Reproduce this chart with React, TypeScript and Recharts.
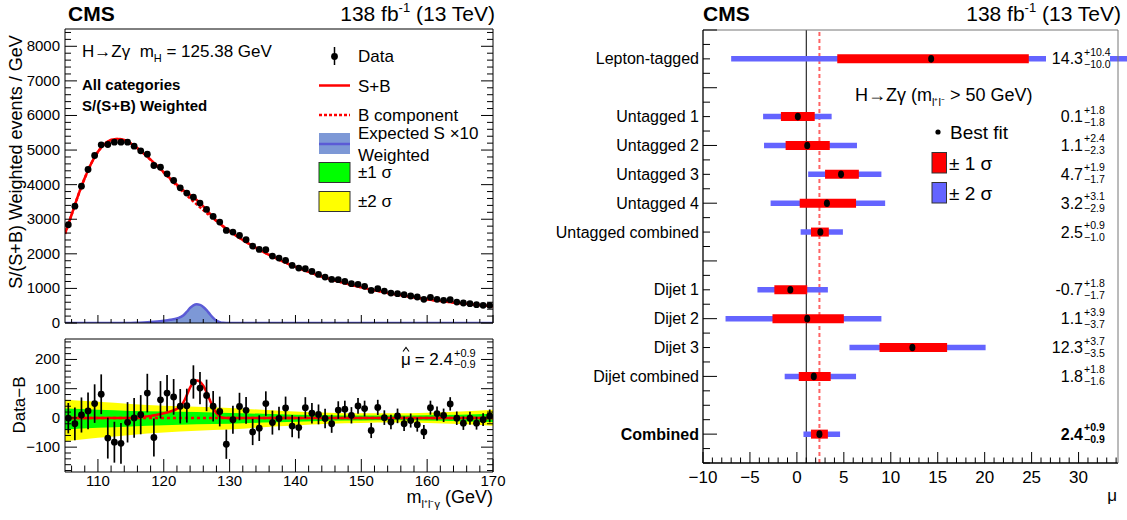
import React from 'react'
import {
  ComposedChart,
  ScatterChart,
  Scatter,
  Line,
  Area,
  XAxis,
  YAxis,
  ErrorBar,
  ReferenceLine,
} from 'recharts'

const FONT = '"Liberation Sans", Arial, Helvetica, sans-serif'

// ---- left panel: weighted m(llγ) spectrum, 1 GeV bins, first bin centred at 105.5 ----
const weightedEvents = [
  2840, 3379, 3957, 4438, 4842, 5150, 5160, 5227, 5227, 5227, 5112, 4977, 4881, 4554, 4505,
  4313, 4120, 3909, 3755, 3639, 3466, 3283, 3081, 2917, 2676, 2628, 2532, 2407, 2224, 2128,
  2118, 1935, 1877, 1810, 1665, 1588, 1569, 1492, 1405, 1329, 1261, 1252, 1203, 1136, 1117,
  1059, 943, 992, 924, 866, 847, 818, 780, 751, 684, 741, 684, 655, 674, 606,
  578, 558, 529, 510, 510,
]
const dataMinusB = [
  -1, -20, 10, 24, 49, 81, -69, -83, -87, -15, 0, 11, 85, -67, 62,
  85, 72, 40, 42, 123, 102, 77, 40, 22, -90, -6, 39, 26, -48, -35,
  49, -16, -2, 34, -28, -33, 35, 16, 12, -2, -20, 27, 30, 9, 41,
  32, -43, 36, 1, -14, 7, -20, -9, -23, -48, 35, 15, 9, 48, -1,
  -18, -1, -18, -6, 7,
]
const statError = [
  52, 56, 60, 63, 66, 68, 70, 70, 70, 69, 68, 67, 66, 65, 64,
  62, 61, 59, 58, 57, 55, 54, 52, 51, 50, 48, 47, 46, 45, 44,
  42, 41, 40, 39, 38, 37, 36, 35, 34, 33, 31, 30, 29, 28, 27,
  27, 26, 26, 25, 25, 25, 25, 24, 24, 24, 24, 24, 23, 23, 23,
  23, 22, 22, 22, 22,
]

// background-only component of the fit, at integer masses 105..170
const bkgFit = [
  2580, 3130, 3690, 4190, 4620, 4950, 5170, 5290, 5320, 5290, 5190, 5050, 4890, 4715, 4530,
  4345, 4155, 3965, 3780, 3600, 3430, 3262, 3100, 2945, 2797, 2657, 2525, 2400, 2283, 2172,
  2067, 1968, 1874, 1786, 1702, 1623, 1548, 1477, 1410, 1346, 1286, 1229, 1175, 1124, 1076,
  1030, 987, 946, 907, 870, 835, 802, 771, 741, 713, 686, 661, 637, 614, 592,
  572, 553, 535, 518, 502, 487,
]

// signal shapes
const signalMass = [105, 115, 116, 117, 118, 119, 120, 121, 122, 122.5, 123, 123.5, 124, 124.5, 125, 125.5, 126, 126.5, 127, 127.5, 128, 128.5, 129, 130, 170]
const fittedSignal = [0, 0, 2, 4, 7, 11, 16, 22, 31, 40, 54, 78, 104, 122, 128, 124, 110, 88, 61, 36, 16, 6, 1, 0, 0]
const expectedS10 = [0, 0, 8, 16, 28, 45, 68, 95, 130, 168, 225, 325, 435, 510, 540, 525, 465, 370, 255, 150, 68, 25, 6, 0, 0]

// ±1σ / ±2σ uncertainty of the background fit (Data−B panel)
const bandMass = [105, 110, 115, 120, 125, 130, 135, 140, 145, 150, 155, 160, 165, 170]
const band1Hi = [32, 28, 24, 22, 20, 17, 14, 11, 9, 8, 8, 9, 11, 14]
const band1Lo = [-40, -34, -29, -25, -22, -20, -16, -13, -10, -9, -8, -9, -11, -14]
const band2Hi = [62, 55, 48, 42, 38, 34, 28, 22, 18, 16, 16, 18, 22, 28]
const band2Lo = [-80, -68, -58, -50, -44, -40, -32, -26, -20, -17, -16, -17, -21, -27]

// ---- right panel: signal strength per category ----
const categories = [
  'Lepton-tagged', 'Untagged 1', 'Untagged 2', 'Untagged 3', 'Untagged 4', 'Untagged combined',
  'Dijet 1', 'Dijet 2', 'Dijet 3', 'Dijet combined', 'Combined',
]
const categoryRow = [0, 2, 3, 4, 5, 6, 8, 9, 10, 11, 13]
const bestFit = [14.3, 0.1, 1.1, 4.7, 3.2, 2.5, -0.7, 1.1, 12.3, 1.8, 2.4]
const sigma1Up = [10.4, 1.8, 2.4, 1.9, 3.1, 0.9, 1.8, 3.9, 3.7, 1.8, 0.9]
const sigma1Down = [10.0, 1.8, 2.3, 1.7, 2.9, 1.0, 1.7, 3.7, 3.5, 1.6, 0.9]
const sigma2Low = [-7.0, -3.6, -3.5, 1.2, -2.8, 0.4, -4.2, -7.6, 5.6, -1.3, 0.7]
const sigma2High = [40, 3.7, 6.4, 9.0, 9.4, 4.9, 3.3, 9.0, 20.1, 6.3, 4.6]

// tick labels
const massTicks = [110, 120, 130, 140, 150, 160, 170]
const eventTicks = [0, 1000, 2000, 3000, 4000, 5000, 6000, 7000, 8000]
const residualTicks = [-100, 0, 100, 200]
const muTicks = [-10, -5, 0, 5, 10, 15, 20, 25, 30]

const range = (a: number, b: number, s: number) => {
  const out: number[] = []
  for (let v = a; v <= b + 1e-9; v += s) out.push(Math.round(v * 1000) / 1000)
  return out
}

const binTable = weightedEvents.map((v, i) => ({
  m: 105.5 + i,
  events: v,
  resid: dataMinusB[i],
  err: statError[i],
}))
const fitTable = bkgFit.map((b, i) => {
  const m = 105 + i
  const k = signalMass.indexOf(m)
  return { m, b, sb: b + (k >= 0 ? fittedSignal[k] : 0) }
})
const signalTable = signalMass.map((m, i) => ({ m, fit: fittedSignal[i], exp: expectedS10[i] }))
const bandTable = bandMass.map((m, i) => ({
  m,
  s1: [band1Lo[i], band1Hi[i]],
  s2: [band2Lo[i], band2Hi[i]],
}))
const zeroLine = [{ m: 105, v: 0 }, { m: 170, v: 0 }]
const muTable = categories.map((c, i) => ({
  name: c,
  row: categoryRow[i],
  mu: bestFit[i],
  e1: [sigma1Down[i], sigma1Up[i]],
  e2: [bestFit[i] - sigma2Low[i], sigma2High[i] - bestFit[i]],
}))

const minus = (v: number) => (v < 0 ? '\u2212' + Math.abs(v) : String(v))

// ROOT-like inward ticks, optional labels on major ticks
type Side = 'bottom' | 'top' | 'left' | 'right'
function rootTick(side: Side, majors: number[], long: number, short: number, labelDy = 0, fontSize = 15) {
  return (p: any) => {
    const v = p.payload.value
    const major = majors.some((t) => Math.abs(t - v) < 1e-6)
    const len = major ? long : short
    let x2 = p.x
    let y2 = p.y
    if (side === 'bottom') y2 = p.y - len
    if (side === 'top') y2 = p.y + len
    if (side === 'left') x2 = p.x + len
    if (side === 'right') x2 = p.x - len
    let label = null
    if (labelDy && major) {
      label =
        side === 'bottom' ? (
          <text x={p.x} y={p.y + labelDy} textAnchor="middle" fontSize={fontSize} fill="#000" style={{ fontFamily: FONT }}>
            {minus(v)}
          </text>
        ) : (
          <text x={p.x - labelDy} y={p.y + 5} textAnchor="end" fontSize={fontSize} fill="#000" style={{ fontFamily: FONT }}>
            {minus(v)}
          </text>
        )
    }
    return (
      <g>
        <line x1={p.x} y1={p.y} x2={x2} y2={y2} stroke="#000" strokeWidth={1} />
        {label}
      </g>
    )
  }
}

const categoryTick = (p: any) => {
  const v = p.payload.value
  const odd = Number.isInteger(v) && Math.abs(v % 2) === 1
  const i = categoryRow.indexOf(v)
  return (
    <g>
      <line x1={p.x} y1={p.y} x2={p.x + (odd ? 14 : 7)} y2={p.y} stroke="#000" />
      {i >= 0 && (
        <text x={p.x - 4} y={p.y + 5.5} textAnchor="end" fontSize={16} fill="#000"
          fontWeight={categories[i] === 'Combined' ? 700 : 400} style={{ fontFamily: FONT }}>
          {categories[i]}
        </text>
      )}
    </g>
  )
}

// value labels at the right edge of the mu panel, on a white box like the ROOT pave
const annotationShape = (p: any) => {
  const i = categoryRow.indexOf(p.payload.row)
  if (i < 0) return <g />
  const w = categories[i] === 'Combined' ? 700 : 400
  const x = 543
  const y = p.cy
  return (
    <g fill="#000" style={{ fontFamily: FONT }} fontWeight={w}>
      <rect x={x - 37} y={y - 11} width={64} height={23} fill="#fff" />
      <text x={x} y={y + 5.5} textAnchor="end" fontSize={16}>{bestFit[i].toFixed(1)}</text>
      <text x={x + 1} y={y - 3} fontSize={10.5}>+{sigma1Up[i].toFixed(1)}</text>
      <text x={x + 1} y={y + 9} fontSize={10.5}>{'\u2212' + sigma1Down[i].toFixed(1)}</text>
    </g>
  )
}

const dot = (p: any) => <circle cx={p.cx} cy={p.cy} r={3.4} fill="#000" />
const fitDot = (p: any) => <ellipse cx={p.cx} cy={p.cy} rx={3} ry={3.8} fill="#000" />

const frame = { stroke: '#000', strokeWidth: 1 }
const massMinor = range(106, 170, 2)

function SpectrumPanel() {
  const yMinor = range(0, 8400, 200)
  return (
    <ComposedChart width={515} height={330} margin={{ top: 28, right: 21, bottom: 6, left: 5 }}>
      <XAxis dataKey="m" type="number" domain={[105, 170]} allowDataOverflow ticks={massMinor} interval={0}
        height={1} tickLine={false} tickSize={0} tickMargin={0} axisLine={frame} tick={rootTick('bottom', massTicks, 8, 4)} />
      <XAxis xAxisId="t" orientation="top" type="number" domain={[105, 170]} allowDataOverflow ticks={massMinor} interval={0}
        height={1} tickLine={false} tickSize={0} tickMargin={0} axisLine={frame} tick={rootTick('top', massTicks, 8, 4)} />
      <YAxis type="number" domain={[0, 8500]} allowDataOverflow ticks={yMinor} interval={0} width={60}
        tickLine={false} tickSize={0} tickMargin={0} axisLine={frame} tick={rootTick('left', eventTicks, 12, 6, 5)} />
      <YAxis yAxisId="r" orientation="right" type="number" domain={[0, 8500]} allowDataOverflow ticks={yMinor}
        interval={0} width={1} tickLine={false} tickSize={0} tickMargin={0} axisLine={frame} tick={rootTick('right', eventTicks, 12, 6)} />
      <Area data={signalTable} dataKey="exp" type="monotone" stroke="#5b5bd6" strokeWidth={2.5} fill="#7d98d6" fillOpacity={1} isAnimationActive={false} />
      <Line data={fitTable} dataKey="b" type="monotone" stroke="#ff0000" strokeWidth={2.5} strokeDasharray="3 2" dot={false} isAnimationActive={false} />
      <Line data={fitTable} dataKey="sb" type="monotone" stroke="#ff0000" strokeWidth={2.5} dot={false} isAnimationActive={false} />
      <Scatter data={binTable} dataKey="events" shape={dot} isAnimationActive={false}>
        <ErrorBar dataKey="err" direction="y" width={0} stroke="#000" strokeWidth={1.5} isAnimationActive={false} />
      </Scatter>
    </ComposedChart>
  )
}

function ResidualPanel() {
  const yMinor = range(-180, 260, 20)
  return (
    <ComposedChart width={515} height={190} margin={{ top: 8, right: 21, bottom: 0, left: 5 }}>
      <XAxis dataKey="m" type="number" domain={[105, 170]} allowDataOverflow ticks={massMinor} interval={0}
        height={48} tickLine={false} tickSize={0} tickMargin={0} axisLine={frame} tick={rootTick('bottom', massTicks, 13, 6.5, 14)} />
      <XAxis xAxisId="t" orientation="top" type="number" domain={[105, 170]} allowDataOverflow ticks={massMinor} interval={0}
        height={1} tickLine={false} tickSize={0} tickMargin={0} axisLine={frame} tick={rootTick('top', massTicks, 13, 6.5)} />
      <YAxis type="number" domain={[-185, 270]} allowDataOverflow ticks={yMinor} interval={0} width={60}
        tickLine={false} tickSize={0} tickMargin={0} axisLine={frame} tick={rootTick('left', residualTicks, 12, 6, 5)} />
      <YAxis yAxisId="r" orientation="right" type="number" domain={[-185, 270]} allowDataOverflow ticks={yMinor} interval={0}
        width={1} tickLine={false} tickSize={0} tickMargin={0} axisLine={frame} tick={rootTick('right', residualTicks, 12, 6)} />
      <Area data={bandTable} dataKey="s2" type="monotone" stroke="none" fill="#ffff00" fillOpacity={1} isAnimationActive={false} />
      <Area data={bandTable} dataKey="s1" type="monotone" stroke="none" fill="#00ff00" fillOpacity={1} isAnimationActive={false} />
      <Line data={zeroLine} dataKey="v" stroke="#ff0000" strokeWidth={2.5} strokeDasharray="3 3" dot={false} isAnimationActive={false} />
      <Line data={signalTable} dataKey="fit" type="monotone" stroke="#ff0000" strokeWidth={2.5} dot={false} isAnimationActive={false} />
      <Scatter data={binTable} dataKey="resid" shape={dot} isAnimationActive={false}>
        <ErrorBar dataKey="err" direction="y" width={0} stroke="#000" strokeWidth={1.7} isAnimationActive={false} />
      </Scatter>
    </ComposedChart>
  )
}

function MuPanel() {
  const combined = bestFit[bestFit.length - 1]
  return (
    <ScatterChart width={587} height={520} margin={{ top: 29, right: 8, bottom: 0, left: 3 }}>
      <XAxis dataKey="mu" type="number" domain={[-10, 34.2]} allowDataOverflow ticks={range(-10, 34, 1)} interval={0}
        height={57} tickLine={false} tickSize={0} tickMargin={0} axisLine={{ stroke: '#000', strokeWidth: 1.3 }}
        tick={rootTick('bottom', muTicks, 11, 5.5, 20, 17)} />
      <XAxis xAxisId="t" orientation="top" type="number" domain={[-10, 34.2]} allowDataOverflow height={1}
        tick={false} tickLine={false} axisLine={{ stroke: '#777', strokeWidth: 1 }} />
      <YAxis dataKey="row" type="number" domain={[-1, 14]} reversed allowDataOverflow ticks={range(-1, 14, 0.5)} interval={0}
        width={160} tickLine={false} tickSize={0} tickMargin={0} axisLine={{ stroke: '#000', strokeWidth: 1.3 }} tick={categoryTick} />
      <YAxis yAxisId="r" orientation="right" type="number" domain={[-1, 14]} reversed allowDataOverflow
        width={1} tick={false} tickLine={false} axisLine={{ stroke: '#777', strokeWidth: 1 }} />
      <ReferenceLine x={1} stroke="#000" strokeWidth={1} />
      <ReferenceLine x={combined} stroke="#ff6464" strokeWidth={2} strokeDasharray="4 3" />
      <Scatter data={muTable} dataKey="row" shape={fitDot} isAnimationActive={false}>
        <ErrorBar dataKey="e2" direction="x" width={0} stroke="#6464ff" strokeWidth={5.5} isAnimationActive={false} />
        <ErrorBar dataKey="e1" direction="x" width={0} stroke="#ff0000" strokeWidth={9} isAnimationActive={false} />
      </Scatter>
      <Scatter data={muTable} dataKey="row" shape={annotationShape} isAnimationActive={false} />
    </ScatterChart>
  )
}

function Overlay() {
  const t = { fontFamily: FONT, fill: '#000' } as React.CSSProperties
  return (
    <svg width={1127} height={520} style={{ position: 'absolute', left: 0, top: 0, pointerEvents: 'none' }}>
      {/* headers */}
      <text x={68} y={21} fontSize={21} fontWeight={700} style={t}>CMS</text>
      <text x={495} y={21} fontSize={21} textAnchor="end" style={t}>
        138 fb<tspan fontSize={13} dy={-9}>-1</tspan><tspan dy={9}> (13 TeV)</tspan>
      </text>
      <text x={703} y={21} fontSize={21} fontWeight={700} style={t}>CMS</text>
      <text x={1121} y={21} fontSize={21} textAnchor="end" style={t}>
        138 fb<tspan fontSize={13} dy={-9}>-1</tspan><tspan dy={9}> (13 TeV)</tspan>
      </text>

      {/* left top panel texts */}
      <text x={82} y={57} fontSize={17} style={t}>
        H{'\u2192'}Z{'\u03B3'}{'\u00A0\u00A0'}m<tspan fontSize={11} dy={5}>H</tspan><tspan dy={-5}> = 125.38 GeV</tspan>
      </text>
      <text x={82} y={90} fontSize={15} fontWeight={700} style={t}>All categories</text>
      <text x={82} y={110.5} fontSize={15} fontWeight={700} style={t}>S/(S+B) Weighted</text>
      <text transform="translate(22,162) rotate(-90)" fontSize={18} textAnchor="middle" style={t}>
        S/(S+B) Weighted events / GeV
      </text>

      {/* left legend */}
      <line x1={334.5} x2={334.5} y1={47} y2={65} stroke="#000" strokeWidth={1.5} />
      <circle cx={334.5} cy={56.5} r={3.4} fill="#000" />
      <text x={358} y={62} fontSize={17} style={t}>Data</text>
      <line x1={319} x2={350} y1={85.5} y2={85.5} stroke="#ff0000" strokeWidth={2.5} />
      <text x={358} y={91.5} fontSize={17} style={t}>S+B</text>
      <line x1={319} x2={350} y1={115} y2={115} stroke="#ff0000" strokeWidth={2.5} strokeDasharray="3 2" />
      <text x={358} y={120.5} fontSize={17} style={t}>B component</text>
      <rect x={319} y={133} width={31} height={21} fill="#7d98d6" />
      <line x1={319} x2={350} y1={144} y2={144} stroke="#5b5bd6" strokeWidth={2.5} />
      <text x={358} y={138.5} fontSize={17} style={t}>Expected S {'\u00D7'}10</text>
      <text x={358} y={160.5} fontSize={17} style={t}>Weighted</text>
      <rect x={319} y={162.5} width={31} height={20} fill="#00ff00" stroke="#333" />
      <text x={358} y={178} fontSize={17} style={t}>{'\u00B1'}1 {'\u03C3'}</text>
      <rect x={319} y={191.5} width={31} height={20} fill="#ffff00" stroke="#333" />
      <text x={358} y={207} fontSize={17} style={t}>{'\u00B1'}2 {'\u03C3'}</text>

      {/* residual panel texts */}
      <text x={401} y={365} fontSize={17} style={t}>{'\u03BC'}</text>
      <path d="M403 351.5 L406 347.5 L409 351.5" fill="none" stroke="#000" strokeWidth={1.1} />
      <text x={453} y={365} fontSize={17} textAnchor="end" style={t}>= 2.4</text>
      <text x={454} y={356.5} fontSize={11} style={t}>+0.9</text>
      <text x={454} y={368} fontSize={11} style={t}>{'\u2212'}0.9</text>
      <text transform="translate(25,405) rotate(-90)" fontSize={17} textAnchor="middle" style={t}>Data{'\u2212'}B</text>
      <text x={493} y={503} fontSize={18} textAnchor="end" style={t}>
        m<tspan fontSize={11} dy={5}>l{'\u207A'}l{'\u207B'}{'\u03B3'}</tspan><tspan dy={-5}> (GeV)</tspan>
      </text>

      {/* right panel legend */}
      <text x={855} y={100.5} fontSize={18} style={t}>
        H{'\u2192'}Z{'\u03B3'} (m<tspan fontSize={11} dy={5}>l{'\u207A'}l{'\u207B'}</tspan><tspan dy={-5}> &gt; 50 GeV)</tspan>
      </text>
      <circle cx={938} cy={132} r={2.6} fill="#000" />
      <text x={950} y={138.5} fontSize={19} style={t}>Best fit</text>
      <rect x={932} y={152.5} width={14.5} height={20.5} fill="#ff0000" stroke="#333" />
      <text x={949} y={169.5} fontSize={19} style={t}>{'\u00B1'} 1 {'\u03C3'}</text>
      <rect x={932} y={182.5} width={14.5} height={20.5} fill="#6464ff" stroke="#333" />
      <text x={949} y={199.5} fontSize={19} style={t}>{'\u00B1'} 2 {'\u03C3'}</text>
      <text x={1117} y={501} fontSize={17} textAnchor="end" style={t}>{'\u03BC'}</text>
    </svg>
  )
}

export default function App() {
  return (
    <div style={{ position: 'absolute', left: 0, top: 0, width: 1127, height: 520, background: '#fff', overflow: 'hidden' }}>
      <div style={{ position: 'absolute', left: 0, top: 0 }}>
        <SpectrumPanel />
      </div>
      <div style={{ position: 'absolute', left: 0, top: 330 }}>
        <ResidualPanel />
      </div>
      <div style={{ position: 'absolute', left: 540, top: 0 }}>
        <MuPanel />
      </div>
      <Overlay />
    </div>
  )
}
